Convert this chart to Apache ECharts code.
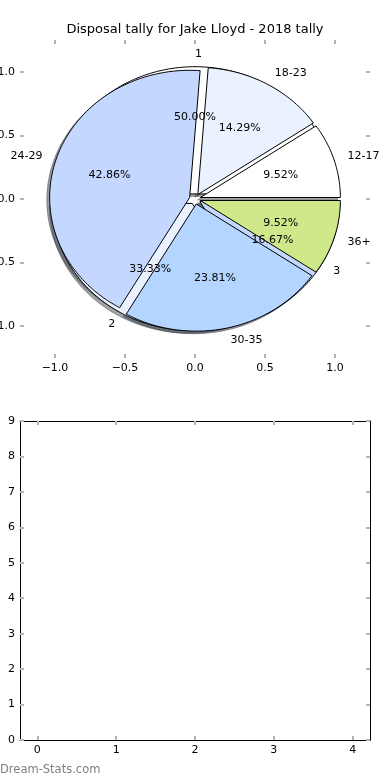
<!DOCTYPE html>
<html>
<head>
<meta charset="utf-8">
<script src="https://cdn.jsdelivr.net/npm/echarts@6/dist/echarts.min.js"></script>
<style>html,body{margin:0;padding:0;background:#fff}#c{width:390px;height:780px}</style>
</head>
<body>
<div id="c"></div>
<script>
// ---- data ----
const titleText = 'Disposal tally for Jake Lloyd - 2018 tally';
const ageLabels = ['12-17', '18-23', '24-29', '30-35', '36+'];
const ageCounts = [2, 3, 9, 5, 2];
const tallyLabels = ['1', '2', '3'];
const tallyCounts = [3, 2, 1];
const wedgeColors = ['#ffffff', '#eaf2ff', '#c4d8ff', '#b3d5ff', '#cfe98a'];
const pieTicks = [-1, -0.5, 0, 0.5, 1];
const lowerXTicks = [0, 1, 2, 3, 4];
const lowerYTicks = [0, 1, 2, 3, 4, 5, 6, 7, 8, 9];
const watermark = 'Dream-Stats.com';

// ---- pie geometry parameters (matplotlib style) ----
const EXPLODE = 0.04, SHADOW_DX = -0.02, SHADOW_DY = -0.02, LABEL_DIST = 1.1, PCT_DIST = 0.6;
const FONT = 'DejaVu Sans';

function geom(counts) {
  const total = counts.reduce((a, b) => a + b, 0);
  let acc = 0;
  return counts.map(c => {
    const t1 = acc / total; acc += c; const t2 = acc / total;
    const tm = Math.PI * (t1 + t2);
    return { t1, t2, tm, cx: EXPLODE * Math.cos(tm), cy: EXPLODE * Math.sin(tm), frac: c / total };
  });
}
function wedgePts(api, g, dx, dy) {
  const ox = g.cx + dx, oy = g.cy + dy;
  const pts = [api.coord([ox, oy])];
  const a1 = g.t1 * 360, a2 = g.t2 * 360;
  const n = Math.max(2, Math.ceil(a2 - a1));
  for (let k = 0; k <= n; k++) {
    const a = (a1 + (a2 - a1) * k / n) * Math.PI / 180;
    pts.push(api.coord([ox + Math.cos(a), oy + Math.sin(a)]));
  }
  return pts;
}
function shadowColor(hex) {
  const r = parseInt(hex.slice(1, 3), 16), g = parseInt(hex.slice(3, 5), 16), b = parseInt(hex.slice(5, 7), 16);
  return `rgba(${Math.round(r * 0.3)},${Math.round(g * 0.3)},${Math.round(b * 0.3)},0.5)`;
}
function layer(counts, labels, kind, z) {
  const G = geom(counts);
  return {
    type: 'custom', xAxisIndex: 0, yAxisIndex: 0, z: z, silent: true,
    encode: { x: 0, y: 1 },
    data: counts.map(v => [0, 0, v]),
    renderItem: function (params, api) {
      const i = params.dataIndex, g = G[i];
      const col = wedgeColors[i % wedgeColors.length];
      if (kind === 'shadow') {
        const sc = shadowColor(col);
        return { type: 'polygon', shape: { points: wedgePts(api, g, SHADOW_DX, SHADOW_DY) },
          style: { fill: sc, stroke: sc, lineWidth: 1 } };
      }
      if (kind === 'wedge') {
        return { type: 'polygon', shape: { points: wedgePts(api, g, 0, 0) },
          style: { fill: col, stroke: '#000', lineWidth: 1, lineJoin: 'miter' } };
      }
      const c = Math.cos(g.tm), s = Math.sin(g.tm);
      const lx = g.cx + LABEL_DIST * c, ly = g.cy + LABEL_DIST * s;
      const px = g.cx + PCT_DIST * c, py = g.cy + PCT_DIST * s;
      const lp = api.coord([lx, ly]), pp = api.coord([px, py]);
      return { type: 'group', children: [
        { type: 'text', x: lp[0], y: lp[1], style: { text: labels[i], font: '11px ' + FONT, fill: '#000',
          align: lx > 0 ? 'left' : 'right', verticalAlign: 'middle' } },
        { type: 'text', x: pp[0], y: pp[1], style: { text: (g.frac * 100).toFixed(2) + '%', font: '11px ' + FONT, fill: '#000',
          align: 'center', verticalAlign: 'middle' } }
      ] };
    }
  };
}

const tickStyle = { show: true, inside: true, length: 4, lineStyle: { color: '#b5b5b5', width: 2 } };
const lblStyle = { color: '#000', fontSize: 11, fontFamily: FONT };
const pieFmt = v => (v < 0 ? '\u2212' : '') + Math.abs(v).toFixed(1);

function axis(gridIndex, position, min, max, ticks, showLabels, showLine, fmt) {
  return {
    type: 'value', gridIndex, position, min, max,
    axisLine: { show: showLine, onZero: false, lineStyle: { color: '#000', width: 1 } },
    axisTick: Object.assign({ customValues: ticks }, tickStyle),
    axisLabel: Object.assign({ show: showLabels, customValues: ticks, margin: 5, formatter: fmt }, lblStyle),
    splitLine: { show: false }
  };
}

const chart = echarts.init(document.getElementById('c'), null, { renderer: 'canvas' });
chart.setOption({
  animation: false,
  backgroundColor: '#fff',
  title: { text: titleText, left: 'center', top: 23, padding: 0,
    textStyle: { fontSize: 13, fontWeight: 'normal', fontFamily: FONT, color: '#000' } },
  grid: [
    { left: 20, top: 40, width: 350, height: 318, outerBoundsMode: 'none', containLabel: false },
    { left: 20, top: 421, width: 350, height: 319, outerBoundsMode: 'none', containLabel: false }
  ],
  xAxis: [
    axis(0, 'bottom', -1.25, 1.25, pieTicks, true, false, pieFmt),
    axis(0, 'top', -1.25, 1.25, pieTicks, false, false, pieFmt),
    axis(1, 'bottom', -0.22, 4.22, lowerXTicks, true, true, v => String(v)),
    axis(1, 'top', -0.22, 4.22, lowerXTicks, false, true, v => String(v))
  ],
  yAxis: [
    axis(0, 'left', -1.25, 1.25, pieTicks, true, false, pieFmt),
    axis(0, 'right', -1.25, 1.25, pieTicks, false, false, pieFmt),
    axis(1, 'left', 0, 9, lowerYTicks, true, true, v => String(v)),
    axis(1, 'right', 0, 9, lowerYTicks, false, true, v => String(v))
  ],
  graphic: [
    { type: 'text', left: 0, top: 764, style: { text: watermark, font: '11.5px ' + FONT, fill: '#808080' } }
  ],
  series: [
    layer(tallyCounts, tallyLabels, 'shadow', 1),
    layer(ageCounts, ageLabels, 'shadow', 1),
    layer(tallyCounts, tallyLabels, 'wedge', 2),
    layer(ageCounts, ageLabels, 'wedge', 3),
    layer(tallyCounts, tallyLabels, 'text', 4),
    layer(ageCounts, ageLabels, 'text', 4)
  ]
});
</script>
</body>
</html>
